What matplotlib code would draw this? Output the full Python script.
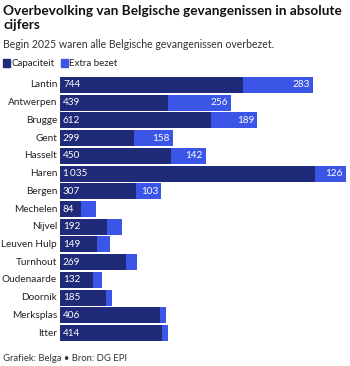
import matplotlib.pyplot as plt
from matplotlib.patches import Rectangle

plt.rcParams['font.family'] = ['Lato', 'DejaVu Sans']

prisons = ["Lantin", "Antwerpen", "Brugge", "Gent", "Hasselt", "Haren", "Bergen",
           "Mechelen", "Nijvel", "Leuven Hulp", "Turnhout", "Oudenaarde",
           "Doornik", "Merksplas", "Itter"]
capacity = [744, 439, 612, 299, 450, 1035, 307, 84, 192, 149, 269, 132, 185, 406, 414]
extra = [283, 256, 189, 158, 142, 126, 103, 62, 60, 54, 44, 39, 26, 25, 25]
# extra values are only labelled when the segment is wide enough
extra_labelled = [True] * 7 + [False] * 8

dark = "#1f2a78"
light = "#3b55e6"

fig = plt.figure(figsize=(3.5, 3.66), dpi=100)
ax = fig.add_axes([60 / 350, 1 - 342 / 366, 286 / 350, 266 / 366])

y = list(range(len(prisons)))
ax.barh(y, capacity, height=0.9, color=dark)
ax.barh(y, extra, left=capacity, height=0.9, color=light)

for i in y:
    txt = f"{capacity[i]:,}".replace(",", "\u2009")
    ax.text(12, i, txt, color="white", va="center", ha="left", fontsize=7.2)
    if extra_labelled[i]:
        ax.text(capacity[i] + extra[i] - 12, i, str(extra[i]), color="white",
                va="center", ha="right", fontsize=7.2)
    ax.text(-12, i, prisons[i], color="#222222", va="center", ha="right", fontsize=7.2)

ax.set_xlim(0, capacity[5] + extra[5])
ax.set_ylim(len(prisons) - 0.5, -0.5)
ax.axis("off")

fig.text(3 / 350, 1 - 15 / 366, "Overbevolking van Belgische gevangenissen in absolute",
         fontsize=9.8, fontweight="bold", color="#111111", va="baseline")
fig.text(3 / 350, 1 - 29 / 366, "cijfers",
         fontsize=9.8, fontweight="bold", color="#111111", va="baseline")
fig.text(3 / 350, 1 - 48 / 366, "Begin 2025 waren alle Belgische gevangenissen overbezet.",
         fontsize=7.6, color="#333333", va="baseline")

fig.patches.append(Rectangle((3 / 350, 1 - 67 / 366), 7 / 350, 8 / 366,
                             color=dark, transform=fig.transFigure))
fig.text(12 / 350, 1 - 66 / 366, "Capaciteit", fontsize=7, color="#222222", va="baseline")
fig.patches.append(Rectangle((61 / 350, 1 - 67 / 366), 7 / 350, 8 / 366,
                             color=light, transform=fig.transFigure))
fig.text(69 / 350, 1 - 66 / 366, "Extra bezet", fontsize=7, color="#222222", va="baseline")

fig.text(3 / 350, 1 - 361 / 366, "Grafiek: Belga \u2022 Bron: DG EPI",
         fontsize=6.8, color="#333333", va="baseline")

fig.savefig("out.png", dpi=100, facecolor="white")
